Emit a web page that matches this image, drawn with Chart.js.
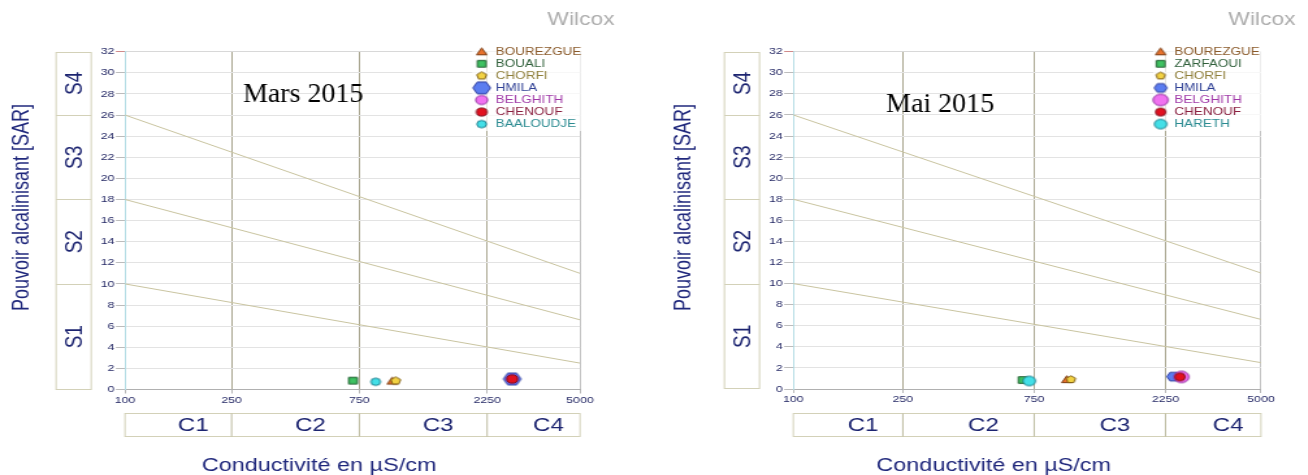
<!DOCTYPE html>
<html>
<head>
<meta charset="utf-8">
<script src="https://cdn.jsdelivr.net/npm/chart.js@4.4.1/dist/chart.umd.min.js"></script>
<style>
  html, body { margin: 0; padding: 0; background: #fff; width: 1308px; height: 475px; overflow: hidden; }
  .panel { position: absolute; top: 0; width: 503px; height: 475px; transform: scaleX(1.3); transform-origin: 0 0; }
  .panel canvas { display: block; }
</style>
</head>
<body>
<div class="panel" style="left:0"><canvas id="mars" width="503" height="475"></canvas></div>
<div class="panel" style="left:654px"><canvas id="mai" width="503" height="475"></canvas></div>
<script>
// Horizontal stretch applied to each panel (see .panel CSS)
const STRETCH = 1.3;

// Axes
const X_TICKS = [100, 250, 750, 2250, 5000];
const Y_MIN = 0, Y_MAX = 32, Y_STEP = 2;

// Wilcox classes
const S_CLASSES = ['S1', 'S2', 'S3', 'S4'];
const S_BOUNDS = [0, 10, 18, 26, 32];
const C_CLASSES = ['C1', 'C2', 'C3', 'C4'];

// Sodium hazard limit lines: SAR at 100 and at 5000 µS/cm
const LIMIT_AT_100 = [10, 18, 26];
const LIMIT_AT_5000 = [2.5, 6.6, 11];

// March 2015 samples
const MARS_NAMES = ['BOUREZGUE', 'BOUALI', 'CHORFI', 'HMILA', 'BELGHITH', 'CHENOUF', 'BAALOUDJE'];
const MARS_COND = [995, 710, 1025, 2790, 2790, 2790, 863];
const MARS_SAR = [0.80, 0.84, 0.82, 1.00, 1.00, 1.00, 0.73];
const MARS_SIZES = [4, 3.3, 4, 6.8, 4.6, 4.1, 3.7];

// May 2015 samples
const MAI_NAMES = ['BOUREZGUE', 'ZARFAOUI', 'CHORFI', 'HMILA', 'BELGHITH', 'CHENOUF', 'HARETH'];
const MAI_COND = [985, 681, 1020, 2400, 2570, 2540, 720];
const MAI_SAR = [0.90, 0.85, 0.90, 1.17, 1.15, 1.15, 0.76];
const MAI_SIZES = [4, 3.3, 3.8, 5, 5.8, 4, 4.8];

// Marker look per legend slot
const MARKER_SHAPES = ['triangle', 'square', 'pentagon', 'hexagon', 'circle', 'circle', 'circle'];
const MARKER_FILL = ['#e8722c', '#3fc262', '#f2d243', '#5b7df0', '#f072f0', '#e2111f', '#43dfe7'];
const MARKER_STROKE = ['#7a3a10', '#1e5a2e', '#7a5a10', '#2a3a9c', '#8a2a9a', '#7a1020', '#1a7a8a'];
const LABEL_COLORS = ['#8a5a2a', '#2f5f3a', '#8f7f3a', '#2e3f94', '#a03aa8', '#8a2040', '#2a8a90'];

const FONT_SANS = '"Liberation Sans", Arial, sans-serif';
const FONT_SERIF = '"Liberation Serif", "Times New Roman", serif';
const NAVY = '#1c2470';
const TICK_NAVY = '#262a66';
const BOX_EDGE = '#d3d1b8';
const CLASS_DIVIDER = '#bdbba0';
const LIMIT_COLOR = '#c9c4a0';

function markerImage(shape, r, fill, stroke) {
  const pad = 1.5;
  const size = Math.ceil(2 * (r + pad));
  const c = document.createElement('canvas');
  c.width = size; c.height = size;
  const g = c.getContext('2d');
  const cx = size / 2, cy = size / 2;
  g.beginPath();
  if (shape === 'circle') {
    g.arc(cx, cy, r, 0, Math.PI * 2);
  } else if (shape === 'square') {
    g.rect(cx - r, cy - r, 2 * r, 2 * r);
  } else {
    const n = { triangle: 3, pentagon: 5, hexagon: 6 }[shape];
    const start = shape === 'hexagon' ? 0 : -Math.PI / 2;
    const rr = shape === 'triangle' ? r * 1.15 : r;
    const oy = shape === 'triangle' ? r * 0.2 : 0;
    for (let i = 0; i < n; i++) {
      const a = start + i * 2 * Math.PI / n;
      const px = cx + rr * Math.cos(a), py = cy + oy + rr * Math.sin(a);
      if (i) g.lineTo(px, py); else g.moveTo(px, py);
    }
    g.closePath();
  }
  g.fillStyle = fill; g.fill();
  g.lineWidth = 1; g.strokeStyle = stroke; g.stroke();
  return c;
}

function buildWilcox(canvasId, cfg) {
  const Y_W = 30, X_H = 20, W = 503, H = 475;
  const images = cfg.names.map((n, i) =>
    markerImage(MARKER_SHAPES[i], cfg.sizes[i], MARKER_FILL[i], MARKER_STROKE[i]));

  const limitSets = LIMIT_AT_100.map((v, i) => ({
    label: 'limit' + i,
    data: [{ x: X_TICKS[0], y: v }, { x: X_TICKS[X_TICKS.length - 1], y: LIMIT_AT_5000[i] }],
    showLine: true, borderColor: LIMIT_COLOR, borderWidth: 1, pointRadius: 0, order: 100
  }));
  const sampleSets = cfg.names.map((name, i) => ({
    label: name,
    data: [{ x: cfg.cond[i], y: cfg.sar[i] }],
    pointStyle: images[i], pointRadius: cfg.sizes[i], pointHoverRadius: cfg.sizes[i],
    backgroundColor: MARKER_FILL[i], borderColor: MARKER_STROKE[i],
    order: cfg.names.length - i
  }));

  const decor = {
    id: 'wilcoxDecor',
    afterDraw(chart) {
      const ctx = chart.ctx, a = chart.chartArea, x = chart.scales.x, y = chart.scales.y;
      ctx.save();

      // Diagram name
      ctx.fillStyle = '#adadad';
      ctx.font = '17.5px ' + FONT_SANS;
      ctx.textAlign = 'right'; ctx.textBaseline = 'middle';
      ctx.fillText('Wilcox', a.right + 26.5, 20);

      // Sodium hazard column
      const bx0 = a.left - 53, bx1 = a.left - 26;
      ctx.strokeStyle = BOX_EDGE; ctx.lineWidth = 1;
      const yTop = Math.round(y.getPixelForValue(S_BOUNDS[S_BOUNDS.length - 1])) + 0.5;
      const yBot = Math.round(y.getPixelForValue(S_BOUNDS[0])) - 0.5;
      ctx.strokeRect(bx0, yTop, bx1 - bx0, yBot - yTop);
      for (let i = 1; i < S_BOUNDS.length - 1; i++) {
        const py = Math.round(y.getPixelForValue(S_BOUNDS[i])) + 0.5;
        ctx.beginPath(); ctx.moveTo(bx0, py); ctx.lineTo(bx1, py); ctx.stroke();
      }
      ctx.fillStyle = NAVY;
      ctx.font = '19px ' + FONT_SANS;
      ctx.textAlign = 'center'; ctx.textBaseline = 'middle';
      S_CLASSES.forEach((lab, i) => {
        const py = (y.getPixelForValue(S_BOUNDS[i]) + y.getPixelForValue(S_BOUNDS[i + 1])) / 2;
        ctx.save(); ctx.translate((bx0 + bx1) / 2 + 1, py); ctx.rotate(-Math.PI / 2);
        ctx.fillText(lab, 0, 0); ctx.restore();
      });

      // Salinity hazard row
      const cy0 = 413.5, cy1 = 436.5;
      ctx.strokeStyle = BOX_EDGE;
      ctx.strokeRect(a.left, cy0, a.right - a.left, cy1 - cy0);
      ctx.strokeStyle = CLASS_DIVIDER;
      for (let i = 1; i < X_TICKS.length - 1; i++) {
        const px = x.getPixelForValue(X_TICKS[i]);
        ctx.beginPath(); ctx.moveTo(px, cy0); ctx.lineTo(px, cy1); ctx.stroke();
      }
      ctx.fillStyle = NAVY;
      ctx.font = '18.5px ' + FONT_SANS;
      C_CLASSES.forEach((lab, i) => {
        const px = (x.getPixelForValue(X_TICKS[i]) + x.getPixelForValue(X_TICKS[i + 1])) / 2 + 11.5;
        ctx.fillText(lab, px, 426);
      });

      // Axis titles
      ctx.font = '18px ' + FONT_SANS;
      ctx.fillStyle = '#20287c';
      ctx.fillText('Conductivité en µS/cm', (a.left + a.right) / 2 - 25.7, 466);
      ctx.save(); ctx.translate(cfg.yTitleX, 207.5); ctx.rotate(-Math.PI / 2);
      ctx.fillText('Pouvoir alcalinisant [SAR]', 0, 0); ctx.restore();

      // Period label (kept at natural width)
      ctx.save();
      ctx.translate(cfg.periodX, cfg.periodBaseline);
      ctx.scale(1 / STRETCH, 1);
      ctx.fillStyle = '#000';
      ctx.font = '28px ' + FONT_SERIF;
      ctx.textAlign = 'left'; ctx.textBaseline = 'alphabetic';
      ctx.fillText(cfg.period, 0, 0);
      ctx.restore();

      // Legend
      ctx.fillStyle = 'rgba(255,255,255,0.7)';
      ctx.fillRect(a.right - 83, 44, 89, 87);
      ctx.font = '10.4px ' + FONT_SANS;
      ctx.textAlign = 'left'; ctx.textBaseline = 'middle';
      cfg.names.forEach((n, i) => {
        const ly = 51.7 + i * 12.07;
        const img = images[i];
        ctx.drawImage(img, a.right + cfg.legMarkX - img.width / 2, ly - img.height / 2);
        ctx.fillStyle = LABEL_COLORS[i];
        ctx.fillText(n, a.right + cfg.legTextX, ly);
      });
      ctx.restore();
    }
  };

  return new Chart(document.getElementById(canvasId), {
    type: 'scatter',
    data: { datasets: sampleSets.concat(limitSets) },
    options: {
      responsive: false,
      animation: false,
      events: [],
      layout: {
        padding: {
          left: cfg.plotLeft - Y_W,
          right: W - cfg.plotRight,
          top: cfg.top,
          bottom: H - cfg.bottom - X_H
        }
      },
      plugins: { legend: { display: false }, tooltip: { enabled: false }, title: { display: false } },
      scales: {
        x: {
          type: 'logarithmic',
          min: X_TICKS[0], max: X_TICKS[X_TICKS.length - 1],
          afterBuildTicks: (s) => { s.ticks = X_TICKS.map(v => ({ value: v })); },
          afterFit: (s) => { s.height = X_H; },
          ticks: {
            autoSkip: false, maxRotation: 0, padding: 1,
            color: TICK_NAVY, font: { family: FONT_SANS, size: 9.5 },
            callback: (v) => String(v)
          },
          grid: {
            tickLength: 4, lineWidth: 1,
            color: (c) => {
              const v = c.tick && c.tick.value;
              if (v === X_TICKS[0]) return '#b5dde5';
              if (v === X_TICKS[X_TICKS.length - 1]) return '#c4c4c4';
              return '#aaa791';
            },
            tickColor: '#b8b8b8'
          },
          border: { display: true, color: '#b0b0b0', width: 1 }
        },
        y: {
          min: Y_MIN, max: Y_MAX,
          afterFit: (s) => { s.width = Y_W; },
          ticks: {
            stepSize: Y_STEP, padding: 1,
            color: TICK_NAVY, font: { family: FONT_SANS, size: 9.5 }
          },
          grid: {
            tickLength: 7, lineWidth: 1,
            color: (c) => (c.tick && c.tick.value === Y_MAX) ? '#d8d8d8' : '#e3e3e3',
            tickColor: (c) => (c.tick && c.tick.value === Y_MAX) ? '#d08a8a' : '#bcbcbc'
          },
          border: { display: true, color: '#b5dde5', width: 1 }
        }
      }
    },
    plugins: [decor]
  });
}

buildWilcox('mars', {
  names: MARS_NAMES, cond: MARS_COND, sar: MARS_SAR, sizes: MARS_SIZES,
  period: 'Mars 2015',
  plotLeft: 96.15, plotRight: 446.15, top: 51.7, bottom: 389.5,
  yTitleX: 16.7, periodX: 186.9, periodBaseline: 101.7,
  legMarkX: -75.6, legTextX: -64.8
});

buildWilcox('mai', {
  names: MAI_NAMES, cond: MAI_COND, sar: MAI_SAR, sizes: MAI_SIZES,
  period: 'Mai 2015',
  plotLeft: 107.15, plotRight: 466.9, top: 51.7, bottom: 389.0,
  yTitleX: 23.1, periodX: 178.5, periodBaseline: 111.5,
  legMarkX: -77.2, legTextX: -66.7
});
</script>
</body>
</html>
